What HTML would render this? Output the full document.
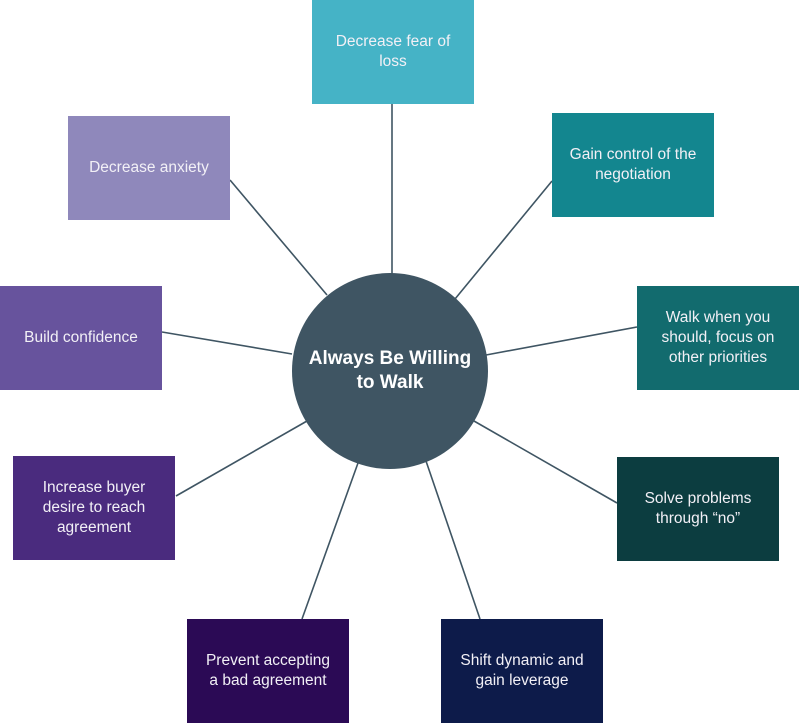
<!DOCTYPE html>
<html><head><style>
body{margin:0;width:800px;height:724px;background:#fff;position:relative;overflow:hidden;font-family:"Liberation Sans",sans-serif}
.b{position:absolute;width:162px;height:104px;display:flex;align-items:center;justify-content:center;text-align:center;color:#f2f0f6;font-size:15.5px;line-height:20px;box-sizing:border-box;white-space:nowrap}
svg{position:absolute;left:0;top:0}
.c{position:absolute;left:292px;top:273px;width:196px;height:196px;border-radius:50%;background:#3f5563;color:#fff;font-weight:bold;font-size:19px;line-height:24px;display:flex;align-items:center;justify-content:center;text-align:center}
</style></head><body>
<svg width="800" height="724"><g stroke="#3f5563" stroke-width="1.6">
<line x1="392" y1="104" x2="392" y2="274"/>
<line x1="552" y1="181" x2="455" y2="299"/>
<line x1="637" y1="327" x2="486" y2="355"/>
<line x1="617" y1="503" x2="474" y2="421"/>
<line x1="480" y1="619" x2="426" y2="461"/>
<line x1="302" y1="619" x2="358" y2="463"/>
<line x1="176" y1="496" x2="307" y2="421"/>
<line x1="162" y1="332" x2="292" y2="354"/>
<line x1="230" y1="180" x2="327" y2="295"/>
</g></svg>
<div class="b" style="left:312px;top:0;background:#45b3c6">Decrease fear of<br>loss</div>
<div class="b" style="left:552px;top:113px;background:#13868f">Gain control of the<br>negotiation</div>
<div class="b" style="left:637px;top:286px;background:#126b6e">Walk when you<br>should, focus on<br>other priorities</div>
<div class="b" style="left:617px;top:457px;background:#0c3d40">Solve problems<br>through “no”</div>
<div class="b" style="left:441px;top:619px;background:#0d1b4a">Shift dynamic and<br>gain leverage</div>
<div class="b" style="left:187px;top:619px;background:#2b0a55">Prevent accepting<br>a bad agreement</div>
<div class="b" style="left:13px;top:456px;background:#4a2b7e">Increase buyer<br>desire to reach<br>agreement</div>
<div class="b" style="left:0;top:286px;background:#67539d">Build confidence</div>
<div class="b" style="left:68px;top:116px;background:#8f88bb">Decrease anxiety</div>
<div class="c">Always Be Willing<br>to Walk</div>
</body></html>
